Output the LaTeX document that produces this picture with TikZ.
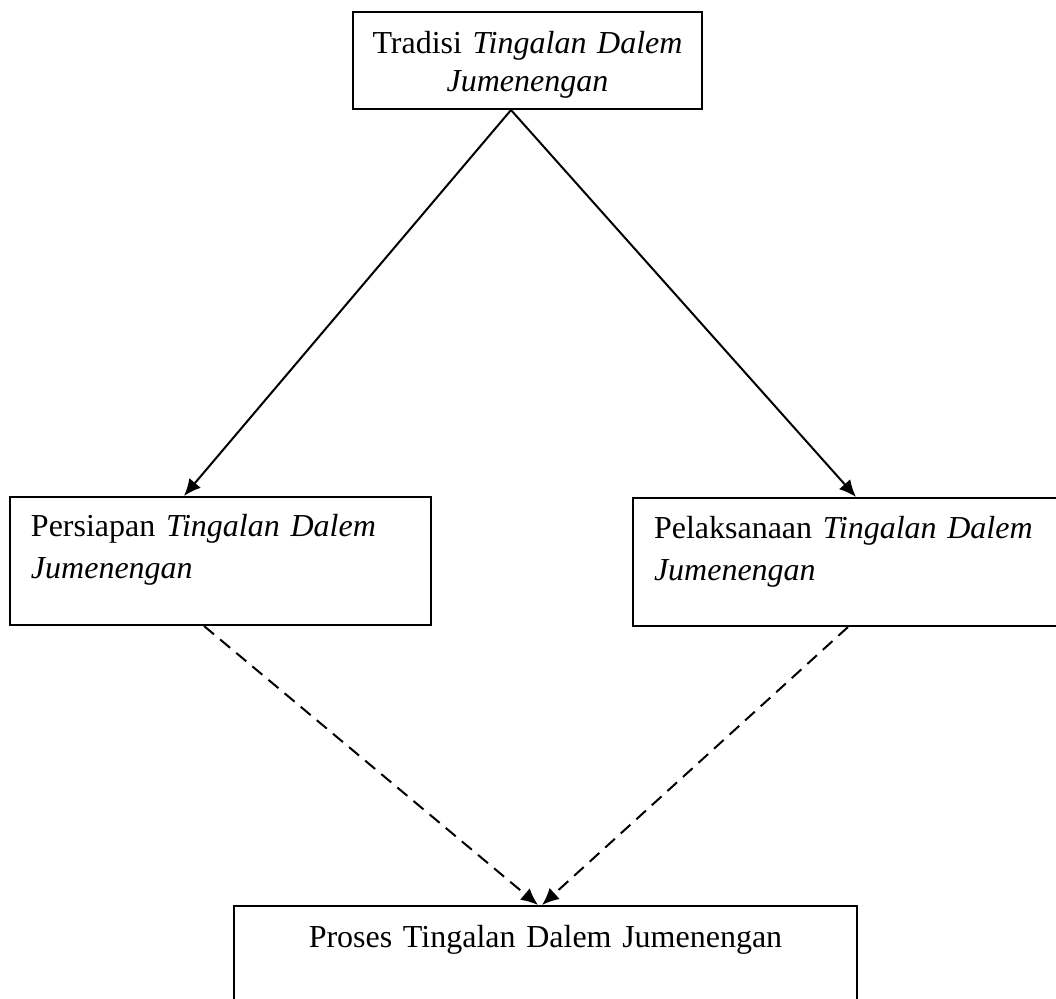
\documentclass[tikz,border=0pt]{standalone}
\usepackage{fontspec}
\setmainfont{Liberation Serif}
\usepackage{tikz}
\usetikzlibrary{arrows.meta}

\begin{document}
\begin{tikzpicture}[x=0.5pt, y=-0.5pt,
    kotak/.style={draw, line width=1pt, rectangle, anchor=north west, inner ysep=0pt},
    panah/.style={-{Latex[length=8.5pt, width=7.5pt]}, line width=1pt},
    putus/.style={panah, dash pattern=on 6.5pt off 4pt}]
    \clip (0,0) rectangle (1056,999);
    % Kotak
    \node[kotak, inner xsep=0pt, text width=174.5pt, align=center, text height=21pt, text depth=27.5pt,
          font=\fontsize{16}{18.75}\selectfont] (tradisi) at (352,11)
        {Tradisi \textit{Tingalan Dalem}\\ \textit{Jumenengan}};
    \node[kotak, inner xsep=10.5pt, text width=189.5pt, align=left, text height=20pt, text depth=44pt,
          font=\fontsize{16}{21}\selectfont] (persiapan) at (9,496)
        {Persiapan \textit{Tingalan Dalem}\\ \textit{Jumenengan}};
    \node[kotak, inner xsep=10.5pt, text width=194pt, align=left, text height=20.5pt, text depth=43.5pt,
          font=\fontsize{16}{21}\selectfont] (pelaksanaan) at (632,497)
        {Pelaksanaan \textit{Tingalan Dalem}\\ \textit{Jumenengan}};
    \node[kotak, inner xsep=0pt, text width=311.5pt, align=center, text height=21pt, text depth=60pt,
          font=\fontsize{16}{21}\selectfont] (proses) at (233,905)
        {Proses Tingalan Dalem Jumenengan};

    % Panah
    \draw[panah] ([xshift=-8.25pt]tradisi.south) -- ([xshift=-18.25pt]persiapan.north);
    \draw[panah] ([xshift=-8.25pt]tradisi.south) -- ([xshift=4pt]pelaksanaan.north);
    \draw[putus] ([xshift=-8.25pt]persiapan.south) -- ([xshift=-3.75pt]proses.north);
    \draw[putus] (pelaksanaan.south) -- ([xshift=-1.75pt]proses.north);
\end{tikzpicture}
\end{document}
